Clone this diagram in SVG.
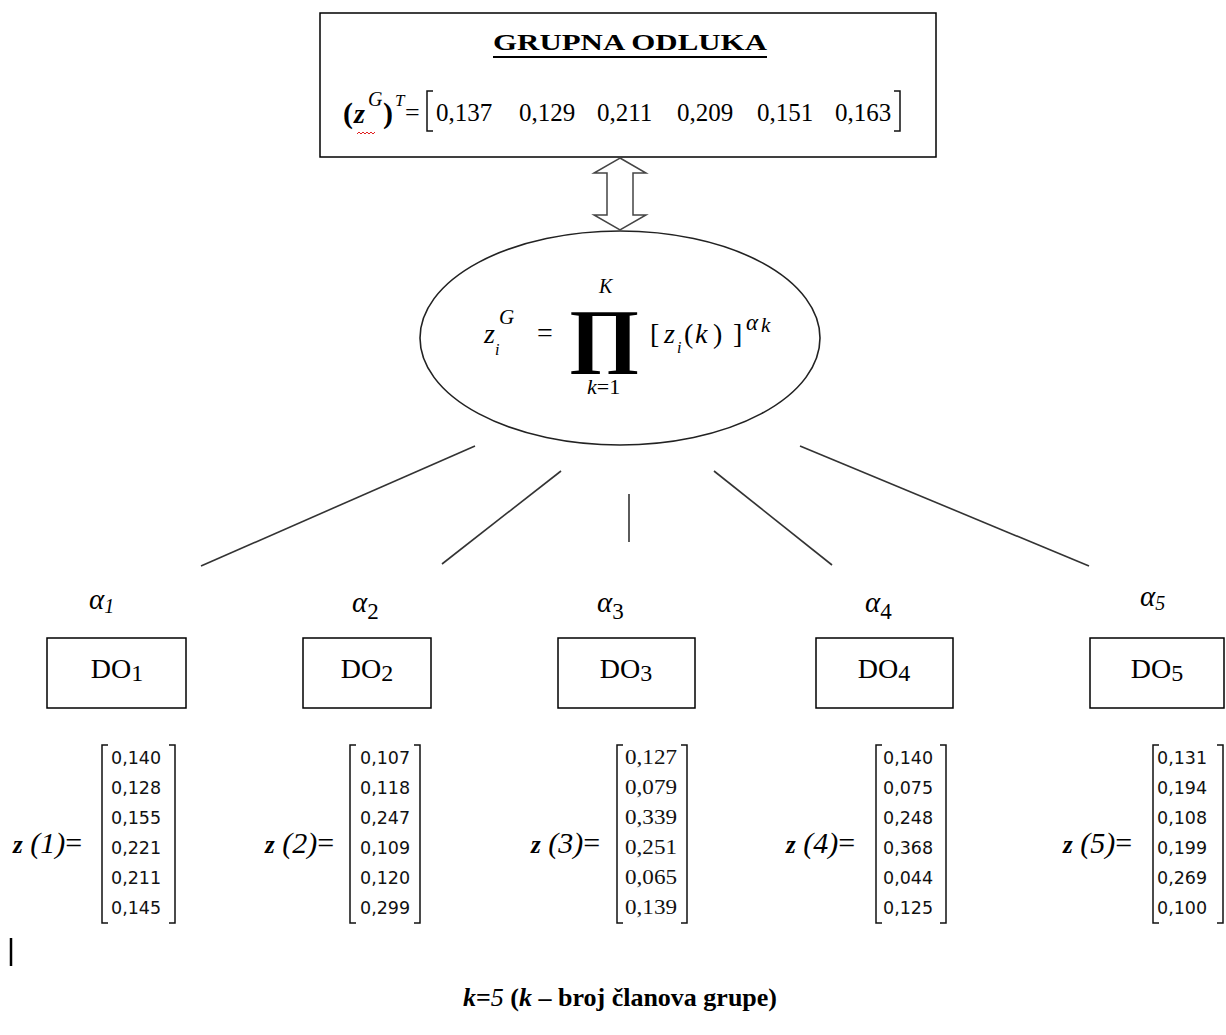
<svg xmlns="http://www.w3.org/2000/svg" width="1226" height="1035" viewBox="0 0 1226 1035">
<style>
.serif{font-family:"Liberation Serif","Times New Roman",serif;fill:#000}
.it{font-style:italic}
.b{font-weight:bold}
.box{fill:#fff;stroke:#000;stroke-width:1.5}
.conn{stroke:#333;stroke-width:1.6;fill:none}
.num{font-family:"DejaVu Sans","Liberation Sans",sans-serif;font-size:17.5px;fill:#111}
.num3{font-family:"Liberation Serif",serif;font-size:21px;fill:#111}
.brk{fill:none;stroke:#111;stroke-width:1.5}
.lbl{font-size:30px}
</style>
<rect width="1226" height="1035" fill="#fff"/>

<g id="grupna-odluka">
  <rect class="box" x="320" y="13" width="616" height="144" stroke-width="2"/>
  <text class="serif b" x="493" y="50" font-size="24" textLength="274" lengthAdjust="spacingAndGlyphs">GRUPNA ODLUKA</text>
  <line x1="493" y1="57" x2="767" y2="57" stroke="#000" stroke-width="2"/>
  <text class="serif b" x="343" y="123" font-size="30">(</text>
  <text class="serif b it" x="354" y="123" font-size="28">z</text>
  <text class="serif it" x="368" y="106" font-size="20">G</text>
  <text class="serif b" x="383" y="123" font-size="30">)</text>
  <text class="serif it" x="395" y="106" font-size="17">T</text>
  <text class="serif" x="405" y="121" font-size="26">=</text>
  <path class="brk" d="M433 91 H427 V131 H433" stroke-width="1.8"/>
  <g class="serif" font-size="25">
    <text x="436" y="121">0,137</text>
    <text x="519" y="121">0,129</text>
    <text x="597" y="121">0,211</text>
    <text x="677" y="121">0,209</text>
    <text x="757" y="121">0,151</text>
    <text x="835" y="121">0,163</text>
  </g>
  <path class="brk" d="M894 91 H900 V131 H894" stroke-width="1.8"/>
  <path d="M357 134 l2 -2 l2 2 l2 -2 l2 2 l2 -2 l2 2 l2 -2 l2 2 l2 -2" fill="none" stroke="#e02020" stroke-width="1"/>
</g>

<g id="formula">
  <ellipse cx="620" cy="338" rx="200" ry="107" fill="#fff" stroke="#222" stroke-width="1.6"/>
  <text class="serif it" x="484" y="343" font-size="28">z</text>
  <text class="serif it" x="499" y="324" font-size="21">G</text>
  <text class="serif it" x="495" y="355" font-size="16">i</text>
  <text class="serif" x="537" y="342" font-size="28">=</text>
  <text class="serif it" x="599" y="293" font-size="20">K</text>
  <text class="serif b" transform="translate(604,359) scale(1.25,1)" font-size="71" text-anchor="middle">∏</text>
  <text class="serif" x="587" y="394" font-size="22"><tspan class="it">k</tspan>=1</text>
  <text class="serif" x="650" y="343" font-size="28">[</text>
  <text class="serif it" x="664" y="343" font-size="28">z</text>
  <text class="serif it" x="677" y="353" font-size="16">i</text>
  <text class="serif" x="684" y="343" font-size="28">(</text>
  <text class="serif it" x="695" y="343" font-size="28">k</text>
  <text class="serif" x="713" y="343" font-size="28">)</text>
  <text class="serif" x="733" y="343" font-size="28">]</text>
  <text class="serif it" x="746" y="330" font-size="23">α</text>
  <text class="serif it" x="761" y="332" font-size="21">k</text>
</g>

<g id="double-arrow">
  <polygon points="620,158 646,173 633,173 633,215 646,215 620,230 594,215 607,215 607,173 594,173" fill="#fff" stroke="#444" stroke-width="1.5"/>
</g>

<g id="connectors">
  <line class="conn" x1="475" y1="446" x2="201" y2="566"/>
  <line class="conn" x1="561" y1="471" x2="442" y2="564"/>
  <line class="conn" x1="629" y1="494" x2="629" y2="542"/>
  <line class="conn" x1="714" y1="471" x2="832" y2="565"/>
  <line class="conn" x1="800" y1="446" x2="1089" y2="566"/>
</g>

<g id="do1">
  <text class="serif it" x="89" y="609" font-size="29">α<tspan font-size="20" dy="4">1</tspan></text>
  <rect class="box" x="47" y="638" width="139" height="70"/>
  <text class="serif" x="117" y="678" font-size="28" text-anchor="middle">DO<tspan font-size="24" dy="3">1</tspan></text>
</g>
<g id="do2">
  <text class="serif it" x="352" y="612" font-size="29">α<tspan font-size="23" font-style="normal" dy="7">2</tspan></text>
  <rect class="box" x="303" y="638" width="128" height="70"/>
  <text class="serif" x="367" y="678" font-size="28" text-anchor="middle">DO<tspan font-size="24" dy="3">2</tspan></text>
</g>
<g id="do3">
  <text class="serif it" x="597" y="612" font-size="29">α<tspan font-size="23" font-style="normal" dy="7">3</tspan></text>
  <rect class="box" x="558" y="638" width="137" height="70"/>
  <text class="serif" x="626" y="678" font-size="28" text-anchor="middle">DO<tspan font-size="24" dy="3">3</tspan></text>
</g>
<g id="do4">
  <text class="serif it" x="865" y="612" font-size="29">α<tspan font-size="23" font-style="normal" dy="7">4</tspan></text>
  <rect class="box" x="816" y="638" width="137" height="70"/>
  <text class="serif" x="884" y="678" font-size="28" text-anchor="middle">DO<tspan font-size="24" dy="3">4</tspan></text>
</g>
<g id="do5">
  <text class="serif it" x="1140" y="606" font-size="29">α<tspan font-size="20" dy="4">5</tspan></text>
  <rect class="box" x="1090" y="638" width="134" height="70"/>
  <text class="serif" x="1157" y="678" font-size="28" text-anchor="middle">DO<tspan font-size="24" dy="3">5</tspan></text>
</g>

<g id="z1">
  <text class="serif lbl" x="13" y="853"><tspan class="b it" font-size="25">z</tspan> <tspan class="it">(1)</tspan>=</text>
  <path class="brk" d="M108 745 H102 V923 H108"/>
  <path class="brk" d="M169 745 H175 V923 H169"/>
  <g class="num">
    <text x="111" y="764">0,140</text><text x="111" y="794">0,128</text><text x="111" y="824">0,155</text>
    <text x="111" y="854">0,221</text><text x="111" y="884">0,211</text><text x="111" y="914">0,145</text>
  </g>
</g>
<g id="z2">
  <text class="serif lbl" x="265" y="853"><tspan class="b it" font-size="25">z</tspan> <tspan class="it">(2)</tspan>=</text>
  <path class="brk" d="M356 745 H350 V923 H356"/>
  <path class="brk" d="M414 745 H420 V923 H414"/>
  <g class="num">
    <text x="360" y="764">0,107</text><text x="360" y="794">0,118</text><text x="360" y="824">0,247</text>
    <text x="360" y="854">0,109</text><text x="360" y="884">0,120</text><text x="360" y="914">0,299</text>
  </g>
</g>
<g id="z3">
  <text class="serif lbl" x="531" y="853"><tspan class="b it" font-size="25">z</tspan> <tspan class="it">(3)</tspan>=</text>
  <path class="brk" d="M623 745 H617 V923 H623"/>
  <path class="brk" d="M681 745 H687 V923 H681"/>
  <g class="num3">
    <text x="625" y="764" textLength="52" lengthAdjust="spacingAndGlyphs">0,127</text><text x="625" y="794" textLength="52" lengthAdjust="spacingAndGlyphs">0,079</text><text x="625" y="824" textLength="52" lengthAdjust="spacingAndGlyphs">0,339</text>
    <text x="625" y="854" textLength="52" lengthAdjust="spacingAndGlyphs">0,251</text><text x="625" y="884" textLength="52" lengthAdjust="spacingAndGlyphs">0,065</text><text x="625" y="914" textLength="52" lengthAdjust="spacingAndGlyphs">0,139</text>
  </g>
</g>
<g id="z4">
  <text class="serif lbl" x="786" y="853"><tspan class="b it" font-size="25">z</tspan> <tspan class="it">(4)</tspan>=</text>
  <path class="brk" d="M882 745 H876 V923 H882"/>
  <path class="brk" d="M940 745 H946 V923 H940"/>
  <g class="num">
    <text x="883" y="764">0,140</text><text x="883" y="794">0,075</text><text x="883" y="824">0,248</text>
    <text x="883" y="854">0,368</text><text x="883" y="884">0,044</text><text x="883" y="914">0,125</text>
  </g>
</g>
<g id="z5">
  <text class="serif lbl" x="1063" y="853"><tspan class="b it" font-size="25">z</tspan> <tspan class="it">(5)</tspan>=</text>
  <path class="brk" d="M1159 745 H1153 V923 H1159"/>
  <path class="brk" d="M1217 745 H1223 V923 H1217"/>
  <g class="num">
    <text x="1157" y="764">0,131</text><text x="1157" y="794">0,194</text><text x="1157" y="824">0,108</text>
    <text x="1157" y="854">0,199</text><text x="1157" y="884">0,269</text><text x="1157" y="914">0,100</text>
  </g>
</g>

<line x1="11" y1="938" x2="11" y2="966" stroke="#000" stroke-width="2.5"/>

<text class="serif b" x="620" y="1006" font-size="26" text-anchor="middle"><tspan class="it">k</tspan>=<tspan font-weight="normal" class="it">5</tspan> (<tspan class="it">k</tspan> – broj članova grupe)</text>
</svg>
